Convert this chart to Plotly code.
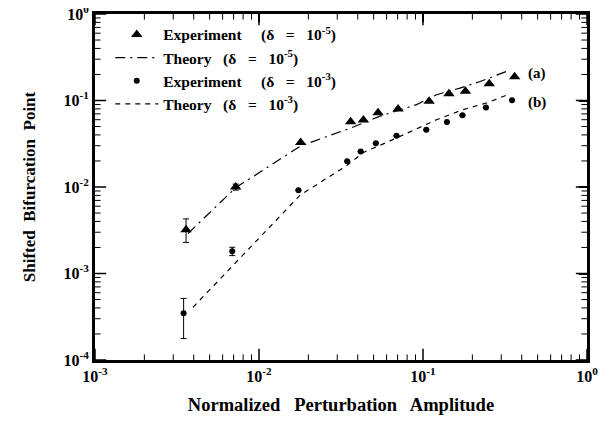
import plotly.graph_objects as go

# Experiment delta = 1e-5 (triangles)
tri_x = [0.00359, 0.00721, 0.01795, 0.0362, 0.0433, 0.0532, 0.0705, 0.109, 0.144, 0.1815, 0.2535, 0.362]
tri_y = [0.0032, 0.0100, 0.0327, 0.0568, 0.0594, 0.072, 0.0796, 0.098, 0.120, 0.128, 0.156, 0.188]
tri_err_plus = [0.00108, 0.0008, 0, 0, 0, 0, 0, 0, 0, 0, 0, 0]
tri_err_minus = [0.00091, 0.0008, 0, 0, 0, 0, 0, 0, 0, 0, 0, 0]

# Experiment delta = 1e-3 (circles)
cir_x = [0.00347, 0.00687, 0.0174, 0.0345, 0.0417, 0.0516, 0.0689, 0.1047, 0.140, 0.174, 0.242, 0.349]
cir_y = [0.000347, 0.00181, 0.00917, 0.0198, 0.0257, 0.032, 0.039, 0.046, 0.0564, 0.0674, 0.0832, 0.101]
cir_err_plus = [0.000168, 0.0002, 0, 0, 0, 0, 0, 0, 0, 0, 0, 0]
cir_err_minus = [0.00017, 0.0002, 0, 0, 0, 0, 0, 0, 0, 0, 0, 0]

# Theory curves
tha_x = [0.00369, 0.0072, 0.018, 0.0367, 0.0547, 0.0914, 0.121, 0.168, 0.223, 0.339]
tha_y = [0.0029, 0.0098, 0.0299, 0.0485, 0.066, 0.0896, 0.1166, 0.139, 0.1656, 0.2249]
thb_x = [0.00396, 0.0178, 0.0343, 0.0433, 0.063, 0.104, 0.121, 0.176, 0.244, 0.336]
thb_y = [0.000407, 0.00804, 0.0177, 0.0251, 0.0341, 0.053, 0.060, 0.0785, 0.0936, 0.1186]

x_ticks = [0.001, 0.01, 0.1, 1]
x_ticktext = ["10<sup>-3</sup>", "10<sup>-2</sup>", "10<sup>-1</sup>", "10<sup>0</sup>"]
y_ticks = [0.0001, 0.001, 0.01, 0.1, 1]
y_ticktext = ["10<sup>-4</sup>", "10<sup>-3</sup>", "10<sup>-2</sup>", "10<sup>-1</sup>", "10<sup>0</sup>"]

FONT = "Liberation Serif"

# layout constants
X_RANGE = (-3, 0)
Y_RANGE = (-4, 0)
FIG_W, FIG_H = 600, 407
M_L, M_R, M_T, M_B = 87, 21, 6, 55
PLOT_W = FIG_W - M_L - M_R
PLOT_H = FIG_H - M_T - M_B
XLO, XHI = 10 ** X_RANGE[0], 10 ** X_RANGE[1]
YLO, YHI = 10 ** Y_RANGE[0], 10 ** Y_RANGE[1]
XMID = 10 ** ((X_RANGE[0] + X_RANGE[1]) / 2)
YMID = 10 ** ((Y_RANGE[0] + Y_RANGE[1]) / 2)


def minor_vals(lo_exp, hi_exp):
    vals = []
    for e in range(lo_exp, hi_exp):
        for m in range(2, 10):
            vals.append(m * 10 ** e)
    return vals


x_minor = minor_vals(*X_RANGE)
y_minor = minor_vals(*Y_RANGE)

fig = go.Figure()

fig.add_trace(go.Scatter(
    x=tri_x, y=tri_y, mode="markers", name="Experiment     (δ   =   10<sup>-5</sup>)",
    marker=dict(symbol="triangle-up", size=10, color="black"),
    error_y=dict(type="data", symmetric=False, array=tri_err_plus, arrayminus=tri_err_minus,
                 color="black", thickness=1, width=3),
))
fig.add_trace(go.Scatter(
    x=tha_x, y=tha_y, mode="lines", name="Theory   (δ   =   10<sup>-5</sup>)",
    line=dict(color="black", width=1.2, dash="10px,5px,2px,5px"),
))
fig.add_trace(go.Scatter(
    x=cir_x, y=cir_y, mode="markers", name="Experiment     (δ   =   10<sup>-3</sup>)",
    marker=dict(symbol="circle", size=6, color="black"),
    error_y=dict(type="data", symmetric=False, array=cir_err_plus, arrayminus=cir_err_minus,
                 color="black", thickness=1, width=3),
))
fig.add_trace(go.Scatter(
    x=thb_x, y=thb_y, mode="lines", name="Theory   (δ   =   10<sup>-3</sup>)",
    line=dict(color="black", width=1.2, dash="5px,5px"),
))


# inside ticks on all four sides: line markers centred on the frame edge
def tick_markers(xv, yv, length, width):
    xs = list(xv) + list(xv) + [XLO] * len(yv) + [XHI] * len(yv)
    ys = [YLO] * len(xv) + [YHI] * len(xv) + list(yv) + list(yv)
    syms = ["line-ns"] * (2 * len(xv)) + ["line-ew"] * (2 * len(yv))
    fig.add_trace(go.Scatter(
        x=xs, y=ys, mode="markers", showlegend=False, hoverinfo="skip", cliponaxis=True,
        marker=dict(symbol=syms, size=2 * length, color="black",
                    line=dict(color="black", width=width)),
    ))


tick_markers(x_ticks, y_ticks, 8, 1.5)
tick_markers(x_minor, y_minor, 4, 1)

# empty trace that makes the top/right companion axes draw
fig.add_trace(go.Scatter(x=[], y=[], xaxis="x2", yaxis="y2", showlegend=False, hoverinfo="skip"))

fig.add_annotation(x=-0.305, y=-0.686, xref="x", yref="y", text="(a)", showarrow=False,
                   font=dict(family=FONT, size=15, color="black", weight="bold"))
fig.add_annotation(x=-0.305, y=-1.02, xref="x", yref="y", text="(b)", showarrow=False,
                   font=dict(family=FONT, size=15, color="black", weight="bold"))

axis_common = dict(
    showline=True, linecolor="black", linewidth=3, mirror=True,
    ticks="", showgrid=False, zeroline=False, automargin=False,
    ticklabeloverflow="allow",
    tickfont=dict(family=FONT, size=16, color="black", weight="bold"),
)
companion = dict(
    showline=True, linecolor="black", linewidth=3, ticks="inside", ticklen=8, tickwidth=1.5,
    tickcolor="black", showticklabels=False, showgrid=False, zeroline=False, automargin=False,
)

fig.update_layout(
    xaxis=dict(
        type="log", range=list(X_RANGE), tickmode="array", tickvals=x_ticks, ticktext=x_ticktext,
        title=dict(text="Normalized   Perturbation   Amplitude", standoff=22,
                   font=dict(family=FONT, size=18.5, color="black", weight="bold")),
        **axis_common,
    ),
    yaxis=dict(
        type="log", range=list(Y_RANGE), tickmode="array", tickvals=y_ticks, ticktext=y_ticktext,
        title=dict(text="Shifted  Bifurcation  Point", standoff=24,
                   font=dict(family=FONT, size=17, color="black", weight="bold")),
        **axis_common,
    ),
    xaxis2=dict(type="log", range=list(X_RANGE), tickmode="array", tickvals=x_ticks,
                overlaying="x", side="top", anchor="y2", **companion),
    yaxis2=dict(type="log", range=list(Y_RANGE), tickmode="array", tickvals=y_ticks,
                overlaying="y", side="right", anchor="x2", **companion),
)

fig.update_layout(
    width=FIG_W, height=FIG_H,
    margin=dict(l=M_L, r=M_R, t=M_T, b=M_B),
    paper_bgcolor="white", plot_bgcolor="white",
    showlegend=True,
    legend=dict(x=0.031, y=0.989, xanchor="left", yanchor="top", bgcolor="rgba(0,0,0,0)",
                font=dict(family=FONT, size=15.5, color="black", weight="bold"),
                tracegroupgap=0, itemwidth=43),
)

fig.write_html("out.html")
